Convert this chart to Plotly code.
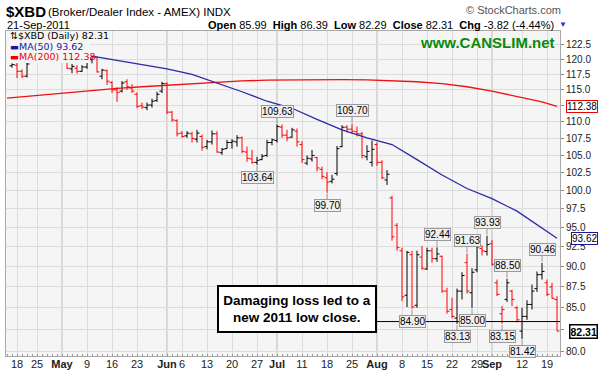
import math
import plotly.graph_objects as go

# ---------------- data ----------------
# trading-day position: 0 = 18-Apr-2011, last bar (108) = 21-Sep-2011
bar_pos = list(range(-1, 109))
opens = [118.9, 119.0, 118.0, 117.2, 119.8, 120.2, 120.0, 120.8, 121.2, 121.6, 121.5, 120.8,
         118.4, 118.5, 118.0, 118.7, 119.9, 120.3, 117.2, 118.1, 116.2, 115.0, 114.8, 116.3,
         115.3, 114.3, 112.5, 112.2, 112.6, 113.3, 114.8, 116.0, 111.5, 110.2, 108.3, 107.9,
         108.2, 107.4, 107.8, 106.3, 107.0, 108.2, 105.4, 106.0, 106.9, 107.0, 107.6, 105.5,
         104.5, 104.0, 104.4, 105.0, 106.9, 107.2, 109.2, 108.0, 107.7, 108.6, 106.6, 103.9,
         104.5, 104.7, 103.0, 101.8, 101.3, 102.4, 106.3, 109.2, 108.9, 108.5, 108.2, 104.8,
         104.0, 106.6, 104.0, 101.5, 99.0, 95.3, 92.0, 86.5, 91.5, 85.3, 91.2, 89.7,
         92.0, 91.0, 91.3, 87.0, 84.8, 83.8, 87.0, 90.5, 86.8, 89.6, 92.3, 91.9,
         92.9, 88.0, 84.3, 86.0, 87.0, 85.0, 82.3, 84.0, 85.4, 87.3, 89.0, 88.0,
         87.5, 85.99]
highs = [119.3, 119.4, 118.3, 119.4, 120.5, 120.4, 121.0, 121.6, 121.9, 121.8, 122.0, 121.0,
         119.2, 119.0, 119.0, 120.0, 120.6, 120.4, 118.4, 118.3, 116.4, 115.4, 116.4, 116.7,
         115.9, 114.6, 113.0, 113.0, 113.6, 114.7, 116.3, 116.2, 111.7, 110.4, 108.6, 108.6,
         108.5, 108.8, 108.1, 107.3, 108.7, 108.6, 106.1, 107.3, 107.4, 108.0, 107.8, 106.3,
         105.8, 104.8, 105.2, 107.3, 107.5, 109.63, 109.6, 108.8, 109.1, 109.0, 107.1, 105.0,
         105.8, 104.8, 103.4, 102.6, 102.2, 106.4, 109.5, 109.5, 109.70, 109.3, 108.5, 106.5,
         107.2, 106.9, 104.3, 102.9, 99.3, 95.6, 92.4, 92.0, 92.0, 92.0, 92.6, 92.4,
         92.4, 92.44, 91.4, 87.4, 86.2, 87.3, 89.3, 91.63, 89.8, 92.8, 92.7, 93.93,
         93.4, 88.4, 85.2, 88.50, 87.15, 85.2, 85.0, 85.9, 87.8, 89.4, 90.46, 88.4,
         88.0, 86.39]
lows = [118.6, 116.9, 116.9, 117.0, 119.6, 119.7, 119.8, 120.3, 120.8, 120.9, 120.6, 118.4,
        117.7, 117.6, 117.9, 118.4, 119.3, 117.8, 116.7, 115.8, 114.5, 113.1, 114.6, 115.0,
        114.5, 112.1, 112.0, 111.8, 112.2, 113.1, 114.5, 111.2, 110.0, 107.8, 107.6, 107.6,
        106.9, 106.9, 105.7, 105.9, 106.6, 105.4, 105.1, 106.0, 106.0, 106.3, 105.3, 104.1,
        103.8, 103.64, 104.3, 104.8, 106.5, 106.9, 107.6, 107.1, 107.6, 106.3, 103.9, 103.6,
        104.1, 102.7, 101.6, 99.70, 101.0, 102.1, 106.2, 108.4, 108.2, 107.8, 104.6, 104.3,
        103.4, 103.5, 101.6, 100.8, 93.3, 92.0, 85.8, 85.1, 84.90, 85.0, 89.6, 89.6,
        90.5, 90.6, 86.8, 84.3, 83.8, 83.13, 86.0, 86.7, 85.00, 89.3, 91.4, 91.4,
        90.1, 86.4, 83.15, 85.7, 85.2, 83.3, 81.42, 83.6, 84.8, 86.9, 88.4, 86.4,
        86.1, 82.29]
closes = [119.1, 118.0, 117.2, 119.2, 120.3, 120.0, 120.8, 121.3, 121.6, 121.2, 120.9, 118.5,
          118.8, 118.0, 118.7, 119.8, 120.4, 117.9, 118.2, 116.4, 115.0, 114.6, 116.1, 115.5,
          114.8, 112.4, 112.3, 112.6, 113.2, 114.3, 116.0, 111.5, 110.3, 108.2, 107.8, 108.3,
          107.5, 108.3, 106.2, 107.0, 108.2, 105.5, 105.9, 106.9, 107.1, 107.6, 105.6, 104.6,
          104.0, 104.3, 104.9, 106.9, 107.3, 109.3, 108.0, 107.6, 108.8, 107.0, 104.4, 104.6,
          105.0, 103.2, 102.0, 101.2, 101.6, 106.0, 109.2, 108.9, 108.6, 108.2, 105.0, 105.6,
          105.9, 104.0, 101.8, 102.3, 93.8, 92.4, 86.3, 91.8, 85.1, 91.5, 89.8, 92.0,
          91.0, 91.6, 87.0, 84.6, 84.0, 87.0, 88.9, 87.0, 89.3, 92.5, 92.0, 92.8,
          90.3, 86.6, 84.8, 88.0, 86.0, 83.6, 84.0, 85.4, 87.0, 89.0, 89.4, 86.6,
          86.13, 82.31]

ma50_pos = [15, 20, 25, 30, 35, 40, 45, 50, 55, 60, 65, 70, 75, 80, 85, 90, 95, 100, 105, 108]
ma50_val = [120.5, 119.8, 119.1, 118.4, 117.5, 116.1, 114.7, 113.2, 112.1, 110.4, 108.8, 107.6,
            106.6, 104.4, 102.2, 100.3, 98.9, 97.2, 95.0, 93.62]
ma200_pos = [-2, 5, 10, 15, 20, 25, 30, 35, 40, 45, 50, 55, 60, 65, 70, 75, 80, 85, 90, 95, 100, 105, 108]
ma200_val = [113.7, 114.2, 114.6, 114.95, 115.25, 115.5, 115.75, 116.0, 116.25, 116.45, 116.55,
             116.6, 116.65, 116.65, 116.6, 116.5, 116.3, 116.0, 115.5, 114.8, 114.0, 113.1, 112.38]

tick_pos = [0, 4, 9, 14, 19, 24, 30, 33, 38, 43, 48, 52, 57, 62, 67, 72, 77, 82, 87, 92, 95, 101, 106]
tick_text = ["18", "25", "<b>May</b>", "9", "16", "23", "<b>Jun</b>", "6", "13", "20", "27",
             "<b>Jul</b>", "11", "18", "25", "<b>Aug</b>", "8", "15", "22", "29", "<b>Sep</b>", "12", "19"]
month_pos = [9, 30, 52, 72, 95]
y_ticks = [80.0, 82.5, 85.0, 87.5, 90.0, 92.5, 95.0, 97.5, 100.0, 102.5, 105.0, 107.5,
           110.0, 112.5, 115.0, 117.5, 120.0, 122.5]
# 82.5 and 112.5 labels sit under the value boxes in the reference
y_tick_text = ["80.0", "", "85.0", "87.5", "90.0", "92.5", "95.0", "97.5", "100.0", "102.5",
               "105.0", "107.5", "110.0", "", "115.0", "117.5", "120.0", "122.5"]

high_tag_pos = [52, 67, 84, 90, 94, 98, 105]
high_tag_val = [109.63, 109.70, 92.44, 91.63, 93.93, 88.50, 90.46]
low_tag_pos = [48, 62, 79, 88, 91, 97, 101]
low_tag_val = [103.64, 99.70, 84.90, 83.13, 85.00, 83.15, 81.42]
support_level = 83.4
last_close, ma50_last, ma200_last = 82.31, 93.62, 112.38

# ---------------- figure ----------------
FONT = "Liberation Sans, Arial, sans-serif"
PLOT_BG = "#f5f5f5"
L, R, T, B, W, H = 6, 40, 31, 20, 600, 376
PW, PH = W - L - R, H - T - B


def pxx(px):
    return (px - L) / PW


def pxy(py):
    return (H - B - py) / PH


up = [k for k in range(len(closes)) if k == 0 or closes[k] >= closes[k - 1]]
dn = [k for k in range(len(closes)) if k > 0 and closes[k] < closes[k - 1]]

fig = go.Figure()
for idx, col in ((up, "#000000"), (dn, "#ff0000")):
    fig.add_trace(go.Ohlc(
        x=[bar_pos[k] for k in idx], open=[opens[k] for k in idx], high=[highs[k] for k in idx],
        low=[lows[k] for k in idx], close=[closes[k] for k in idx],
        increasing=dict(line=dict(color=col, width=1)), decreasing=dict(line=dict(color=col, width=1)),
        tickwidth=0.5, hoverinfo="skip"))

fig.add_trace(go.Scatter(x=ma200_pos, y=ma200_val, mode="lines",
                         line=dict(color="#ee1111", width=1.3), hoverinfo="skip"))
fig.add_trace(go.Scatter(x=ma50_pos, y=ma50_val, mode="lines",
                         line=dict(color="#2a2aa8", width=1.3), hoverinfo="skip"))
fig.add_trace(go.Scatter(x=[60, 108.6], y=[support_level, support_level], mode="lines",
                         line=dict(color="#000000", width=1), hoverinfo="skip"))

shapes = []
for m in month_pos:
    shapes.append(dict(type="line", xref="x", yref="paper", x0=m, x1=m, y0=0, y1=1,
                       line=dict(color="#b4b4b4", width=1), layer="below"))
# legend background box
shapes.append(dict(type="rect", xref="paper", yref="paper", x0=0.001, x1=pxx(90), y0=pxy(63), y1=0.998,
                   fillcolor=PLOT_BG, line=dict(width=0), layer="above"))

ann = []
# header
ann.append(dict(text="<b>$XBD</b>", x=pxx(4), y=pxy(11), xref="paper", yref="paper", xanchor="left",
                yanchor="middle", showarrow=False, font=dict(family=FONT, size=15, color="#000")))
ann.append(dict(text="(Broker/Dealer Index - AMEX) INDX", x=pxx(46), y=pxy(12), xref="paper", yref="paper",
                xanchor="left", yanchor="middle", showarrow=False, font=dict(family=FONT, size=11.5, color="#000")))
ann.append(dict(text="© StockCharts.com", x=pxx(563), y=pxy(10), xref="paper", yref="paper", xanchor="right",
                yanchor="middle", showarrow=False, font=dict(family=FONT, size=11, color="#555")))
ann.append(dict(text="21-Sep-2011", x=pxx(5), y=pxy(25), xref="paper", yref="paper", xanchor="left",
                yanchor="middle", showarrow=False, font=dict(family=FONT, size=11, color="#000")))
ann.append(dict(text="<b>Open</b> 85.99  <b>High</b> 86.39  <b>Low</b> 82.29  <b>Close</b> 82.31  <b>Chg</b> -3.82 (-4.44%)",
                x=pxx(556), y=pxy(25), xref="paper", yref="paper", xanchor="right", yanchor="middle",
                showarrow=False, font=dict(family=FONT, size=11, color="#000")))
ann.append(dict(text="▼", x=pxx(557), y=pxy(25), xref="paper", yref="paper", xanchor="left", yanchor="middle",
                showarrow=False, font=dict(family=FONT, size=8, color="#2233cc")))
# in-plot legend
ann.append(dict(text="⇅$XBD (Daily) 82.31", x=pxx(8), y=pxy(36), xref="paper", yref="paper", xanchor="left",
                yanchor="middle", showarrow=False, font=dict(family="DejaVu Sans", size=9.5, color="#000")))
ann.append(dict(text="▬MA(50) 93.62", x=pxx(8), y=pxy(46.5), xref="paper", yref="paper", xanchor="left",
                yanchor="middle", showarrow=False, font=dict(family="DejaVu Sans", size=9.5, color="#1a1a99")))
ann.append(dict(text="▬MA(200) 112.38", x=pxx(8), y=pxy(57), xref="paper", yref="paper", xanchor="left",
                yanchor="middle", showarrow=False, font=dict(family="DejaVu Sans", size=9.5, color="#ee0000")))
ann.append(dict(text="<b>www.CANSLIM.net</b>", x=pxx(557), y=pxy(42), xref="paper", yref="paper",
                xanchor="right", yanchor="middle", showarrow=False, font=dict(family=FONT, size=15, color="#0a8a0a")))

# price tags
for p, v in zip(high_tag_pos, high_tag_val):
    ann.append(dict(text=f"{v:.2f}", x=p, y=math.log10(v), xref="x", yref="y", showarrow=True, arrowhead=0,
                    arrowwidth=1, arrowcolor="#999", ax=0, ay=-13, standoff=1, bgcolor="#efefef",
                    bordercolor="#9a9a9a", borderwidth=1, borderpad=0, font=dict(family=FONT, size=10, color="#000")))
for p, v in zip(low_tag_pos, low_tag_val):
    ann.append(dict(text=f"{v:.2f}", x=p, y=math.log10(v), xref="x", yref="y", showarrow=True, arrowhead=0,
                    arrowwidth=1, arrowcolor="#999", ax=0, ay=13, standoff=1, bgcolor="#efefef",
                    bordercolor="#9a9a9a", borderwidth=1, borderpad=0, font=dict(family=FONT, size=10, color="#000")))

# right axis value boxes
for v, col, bold in ((ma200_last, "#ee0000", False), (ma50_last, "#1a1a99", False), (last_close, "#000000", True)):
    t = f"<b>{v:.2f}</b>" if bold else f"{v:.2f}"
    ann.append(dict(text=t, x=pxx(598), y=math.log10(v), xref="paper", yref="y", xanchor="right", yanchor="middle",
                    showarrow=False, bgcolor="#ffffff", bordercolor=col, borderwidth=1.5 if bold else 1,
                    borderpad=0, font=dict(family=FONT, size=10.5 if bold else 10, color="#000")))

# comment box
ann.append(dict(text="<b>Damaging loss led to a<br>new 2011 low close.</b>", x=pxx(297), y=pxy(309),
                xref="paper", yref="paper", xanchor="center", yanchor="middle", showarrow=False,
                bgcolor="#ffffff", bordercolor="#000", borderwidth=2, borderpad=1, width=154, height=42,
                font=dict(family=FONT, size=13.5, color="#000")))

fig.update_layout(
    width=W, height=H, margin=dict(l=L, r=R, t=T, b=B), paper_bgcolor="#ffffff", plot_bgcolor=PLOT_BG,
    showlegend=False, shapes=shapes, annotations=ann,
    xaxis=dict(range=[-2.2, 108.6], tickmode="array", tickvals=tick_pos, ticktext=tick_text, tickangle=0,
               showgrid=True, gridcolor="#dcdcdc", gridwidth=1, ticks="", ticklabelstandoff=-2,
               tickfont=dict(family=FONT, size=11, color="#222"),
               showline=True, linecolor="#a8a8a8", mirror=True, zeroline=False, rangeslider=dict(visible=False),
               minor=dict(tickmode="linear", tick0=0, dtick=1, ticks="inside", ticklen=2, tickcolor="#999",
                          showgrid=False)),
    yaxis=dict(type="log", range=[1.90042, 2.09615], side="right", tickmode="array", tickvals=y_ticks,
               ticktext=y_tick_text, ticks="outside", ticklen=3, tickcolor="#888", showgrid=True,
               gridcolor="#dcdcdc", showline=True, linecolor="#a8a8a8", mirror=True, zeroline=False,
               tickfont=dict(family=FONT, size=10, color="#222")),
)

fig.write_html("out.html", config={"displayModeBar": False, "staticPlot": True},
               post_script="document.body.style.margin='0';document.body.style.overflow='hidden';")
